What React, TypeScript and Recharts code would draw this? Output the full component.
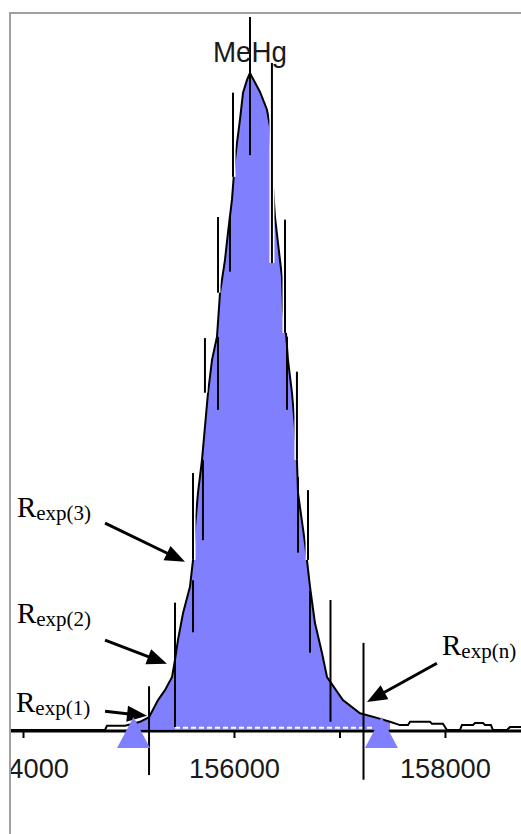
import React from "react";
import {
  Area,
  ComposedChart,
  Line,
  ReferenceDot,
  ReferenceLine,
  XAxis,
  YAxis,
} from "recharts";

const BLUE = "#8080ff";
const SERIF = "'Liberation Serif', 'Times New Roman', serif";
const SANS = "'Liberation Sans', Arial, sans-serif";

// axes
const MASS_DOMAIN = [153872, 158716];
const INT_DOMAIN = [0, 109.1];
const MASS_TICKS = [154000, 155000, 156000, 157000, 158000];
const TICK_LABELS: Record<number, string> = {
  154000: "154000",
  156000: "156000",
  158000: "158000",
};

// measured trace (mass, relative intensity)
const traceMass = [
  153872, 154773, 154791, 154962, 155038, 155104, 155190, 155275, 155341, 155408,
  155436, 155464, 155512, 155578, 155607, 155626, 155654, 155692, 155720, 155749,
  155787, 155834, 155863, 155910, 155938, 155976, 156005, 156024, 156052, 156081,
  156118, 156147, 156166, 156242, 156308, 156337, 156351, 156365, 156384, 156412,
  156450, 156460, 156488, 156507, 156545, 156573, 156592, 156602, 156668, 156716,
  156763, 156829, 156877, 157028, 157190, 157351, 157474, 157569, 157645, 157664,
  157853, 157872, 157976, 158014, 158137, 158156, 158261, 158280, 158356, 158375,
  158431, 158450, 158583, 158611, 158716,
];
const traceInt = [
  0.15, 0.15, 0.8, 0.8, 1.1, 1.4, 2.1, 4.7, 6.2, 8.2,
  10.8, 13.8, 17.9, 21.9, 26.0, 31.0, 36.2, 41.2, 46.2, 51.4,
  56.4, 59.9, 66.6, 71.6, 75.7, 80.7, 86.8, 89.4, 92.9, 97.0,
  98.9, 100, 99.4, 97.1, 94.4, 91.8, 86.8, 82.7, 78.1, 74.2,
  69.0, 64.0, 60.5, 56.4, 51.4, 46.2, 41.2, 36.2, 28.6, 21.9,
  16.4, 11.9, 8.2, 4.7, 2.7, 2.0, 1.4, 0.9, 0.9, 1.4,
  1.4, 1.1, 1.1, 0.15, 0.15, 0.9, 0.9, 1.2, 1.2, 0.9,
  0.9, 0.15, 0.15, 0.6, 0.6,
];

// integrated region limits
const peakStart = 155038;
const peakEnd = 157474;
const integBase = 0.3;
const baselineMass = [155436, 157330];
const baselineInt = 0.5;

// limit markers (triangles)
const limitMass = [155043, 157393];
const limitInt = -2.58;

// stick lines: mass, top, bottom, outer (haloed)
const stickMass = [
  156147, 155986, 155844, 155720, 155607, 155436, 155190,
  155957, 155844, 155701, 155607,
  156355, 156479, 156592, 156697, 156910, 157223,
  156498, 156602, 156716,
];
const stickTop = [
  108.5, 97.0, 78.1, 59.7, 39.2, 19.5, 6.8,
  78.1, 59.9, 41.2, 22.9,
  101.5, 77.7, 54.6, 36.6, 19.9, 13.4,
  59.9, 38.6, 21.3,
];
const stickBottom = [
  87.5, 84.2, 66.6, 51.4, 26.0, 0.6, -6.7,
  69.8, 48.8, 29.0, 15.0,
  71.1, 60.5, 41.2, 26.0, 1.4, -7.4,
  48.8, 27.1, 11.9,
];
const stickOuter = [
  false, true, true, true, true, false, false,
  false, false, false, false,
  true, true, true, true, false, false,
  false, false, false,
];

// annotations
const labelSub = ["exp(3)", "exp(2)", "exp(1)", "exp(n)"];
const labelMass = [153938, 153938, 153929, 157967];
const labelInt = [32.5, 16.4, 2.9, 11.6];
const arrowFromMass = [154773, 154773, 154773, 157919];
const arrowFromInt = [31.6, 13.8, 3.0, 10.3];
const arrowToMass = [155531, 155360, 155171, 157256];
const arrowToInt = [25.7, 10.2, 2.3, 4.4];

const peakLabel = "MeHg";
const peakLabelMass = 156147;
const peakLabelInt = 101.7;

const trace = traceMass.map((m, i) => ({ mass: m, int: traceInt[i] }));
const peak = trace.filter((d) => d.mass >= peakStart && d.mass <= peakEnd);
const baseline = baselineMass.map((m) => ({ mass: m, int: baselineInt }));

function MassTick({ x, y, payload }: any) {
  const label = TICK_LABELS[payload.value];
  if (!label) return <g />;
  return (
    <text
      x={x}
      y={y + 38}
      textAnchor="middle"
      fontFamily={SANS}
      fontSize={28}
      fill="#1a1a1a"
      textLength={91}
      lengthAdjust="spacingAndGlyphs"
    >
      {label}
    </text>
  );
}

function Arrow({ x1, y1, x2, y2 }: any) {
  const dx = x2 - x1;
  const dy = y2 - y1;
  const len = Math.hypot(dx, dy) || 1;
  const ux = dx / len;
  const uy = dy / len;
  const hl = 20;
  const hw = 8;
  const bx = x2 - ux * hl;
  const by = y2 - uy * hl;
  return (
    <g>
      <line x1={x1} y1={y1} x2={bx + ux * 2} y2={by + uy * 2} stroke="#000" strokeWidth={3} />
      <polygon
        points={`${x2},${y2} ${bx - uy * hw},${by + ux * hw} ${bx + uy * hw},${by - ux * hw}`}
        fill="#000"
      />
    </g>
  );
}

function Stick(outer: boolean) {
  return ({ x1, y1, x2, y2 }: any) => (
    <g>
      {outer && <line x1={x1} y1={y1} x2={x2} y2={y2} stroke="#fff" strokeWidth={5} />}
      <line x1={x1} y1={y1} x2={x2} y2={y2} stroke="#000" strokeWidth={2} />
    </g>
  );
}

function Triangle({ cx, cy }: any) {
  return <polygon points={`${cx - 16.5},${cy} ${cx + 16.5},${cy} ${cx},${cy - 31}`} fill={BLUE} />;
}

function RLabel(sub: string) {
  return ({ cx, cy }: any) => (
    <text x={cx} y={cy} fontFamily={SERIF} fontSize={29} fill="#000">
      R
      <tspan fontSize={21} dy={3}>
        {sub}
      </tspan>
    </text>
  );
}

function PeakLabel({ cx, cy }: any) {
  return (
    <text
      x={cx}
      y={cy}
      textAnchor="middle"
      fontFamily={SANS}
      fontSize={30}
      fill="#1a1a1a"
      textLength={74}
      lengthAdjust="spacingAndGlyphs"
    >
      {peakLabel}
    </text>
  );
}

export default function App() {
  return (
    <div style={{ position: "absolute", left: 0, top: 0, width: 521, height: 834, background: "#fff", overflow: "hidden" }}>
      <ComposedChart width={521} height={834} margin={{ top: 13, right: 0, bottom: 63, left: 10 }}>
        <XAxis
          type="number"
          dataKey="mass"
          domain={MASS_DOMAIN}
          ticks={MASS_TICKS}
          height={40}
          axisLine={{ stroke: "#000", strokeWidth: 3 }}
          tickLine={{ stroke: "#000", strokeWidth: 2 }}
          tickSize={7}
          tick={<MassTick />}
          interval={0}
        />
        <YAxis type="number" dataKey="int" domain={INT_DOMAIN} hide />
        <Area
          data={peak}
          dataKey="int"
          type="linear"
          baseValue={integBase}
          fill={BLUE}
          fillOpacity={1}
          stroke="none"
          isAnimationActive={false}
        />
        <Line
          data={baseline}
          dataKey="int"
          type="linear"
          stroke="#fff"
          strokeWidth={2}
          strokeDasharray="5 3"
          dot={false}
          activeDot={false}
          isAnimationActive={false}
        />
        <Line
          data={trace}
          dataKey="int"
          type="linear"
          stroke="#000"
          strokeWidth={2}
          dot={false}
          activeDot={false}
          isAnimationActive={false}
        />
        {stickMass.map((m, i) => (
          <ReferenceLine
            key={`s${i}`}
            segment={[
              { x: m, y: stickTop[i] },
              { x: m, y: stickBottom[i] },
            ]}
            ifOverflow="visible"
            shape={Stick(stickOuter[i])}
          />
        ))}
        {limitMass.map((m, i) => (
          <ReferenceDot key={`t${i}`} x={m} y={limitInt} ifOverflow="visible" shape={Triangle} />
        ))}
        {arrowFromMass.map((m, i) => (
          <ReferenceLine
            key={`a${i}`}
            segment={[
              { x: m, y: arrowFromInt[i] },
              { x: arrowToMass[i], y: arrowToInt[i] },
            ]}
            ifOverflow="visible"
            shape={Arrow}
          />
        ))}
        {labelSub.map((s, i) => (
          <ReferenceDot key={`l${i}`} x={labelMass[i]} y={labelInt[i]} ifOverflow="visible" shape={RLabel(s)} />
        ))}
        <ReferenceDot x={peakLabelMass} y={peakLabelInt} ifOverflow="visible" shape={PeakLabel} />
      </ComposedChart>
      <div style={{ position: "absolute", left: 0, top: 0, width: 9, height: 834, background: "#fff" }} />
      <div
        style={{
          position: "absolute",
          left: 9,
          top: 12,
          right: 0,
          bottom: 0,
          borderTop: "2px solid #a0a0a0",
          borderLeft: "2px solid #a0a0a0",
          pointerEvents: "none",
        }}
      />
    </div>
  );
}
